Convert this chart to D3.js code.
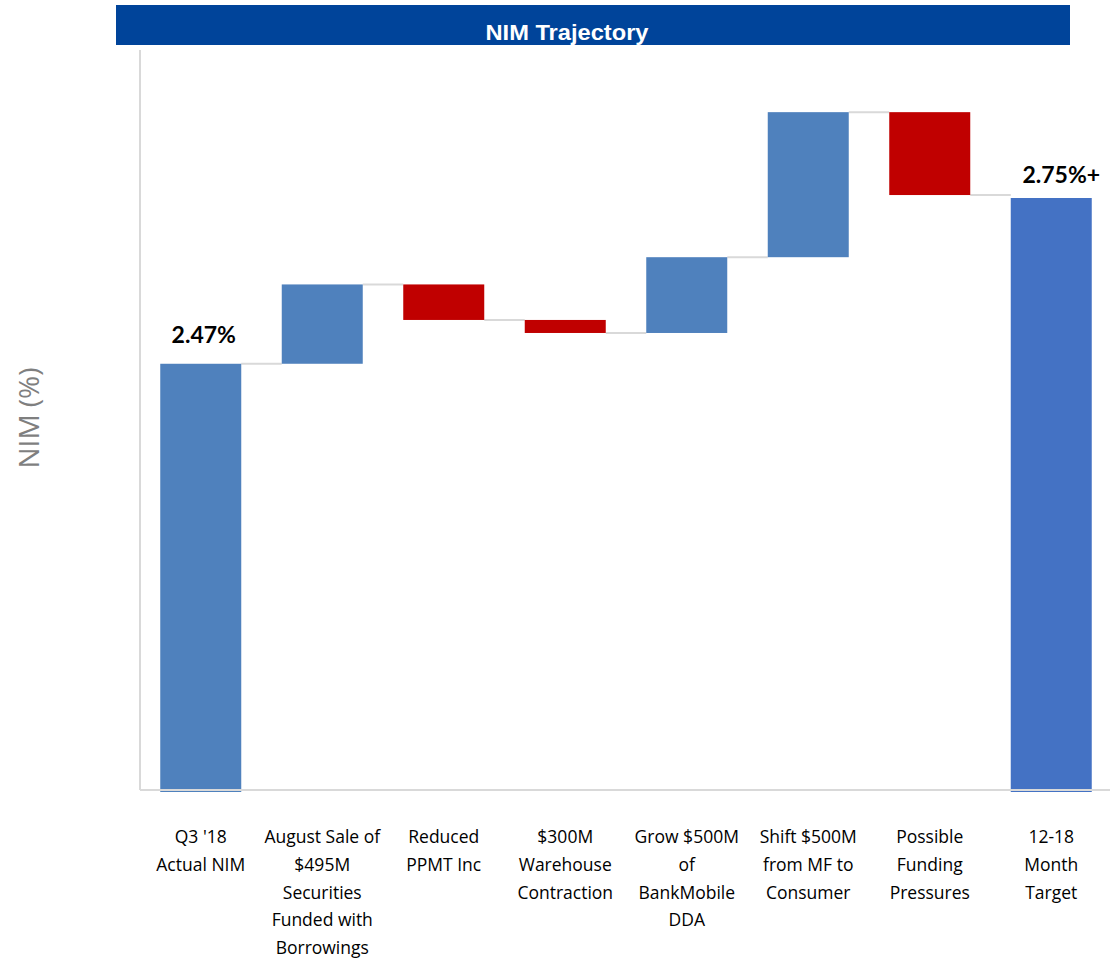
<!DOCTYPE html>
<html>
<head>
<meta charset="utf-8">
<script src="https://cdn.jsdelivr.net/npm/d3@7"></script>
<style>
  html, body { margin: 0; padding: 0; background: #fff; }
  svg { display: block; }
</style>
</head>
<body>
<svg id="chart" width="1118" height="958"></svg>
<script>
const categories = [
  ["Q3 '18", "Actual NIM"],
  ["August Sale of", "$495M", "Securities", "Funded with", "Borrowings"],
  ["Reduced", "PPMT Inc"],
  ["$300M", "Warehouse", "Contraction"],
  ["Grow $500M", "of", "BankMobile", "DDA"],
  ["Shift $500M", "from MF to", "Consumer"],
  ["Possible", "Funding", "Pressures"],
  ["12-18", "Month", "Target"]
];
const startValue = 2.47;
const deltas = [0.134, -0.06, -0.022, 0.128, 0.245, -0.14];
const endValue = 2.75;
const totalLabels = ["2.47%", "2.75%+"];
const yDomain = [1.75, 3.0];

const svg = d3.select("#chart");

// Title bar
svg.append("rect").attr("x", 116).attr("y", 5).attr("width", 954).attr("height", 40).attr("fill", "#00449A");
svg.append("text").attr("x", 567).attr("y", 40).attr("text-anchor", "middle")
  .attr("font-family", "Liberation Sans, Arial, sans-serif").attr("font-weight", "bold")
  .attr("font-size", 22).attr("fill", "#fff")
  .attr("textLength", 163).attr("lengthAdjust", "spacingAndGlyphs")
  .text("NIM Trajectory");

// Build waterfall
const rows = [];
rows.push({i: 0, lo: yDomain[0], hi: startValue, type: "total", color: "#4F81BD"});
let level = startValue;
deltas.forEach((d, k) => {
  const next = level + d;
  rows.push({i: k + 1, lo: Math.min(level, next), hi: Math.max(level, next),
             type: d >= 0 ? "up" : "down", color: d >= 0 ? "#4F81BD" : "#C00000"});
  level = next;
});
rows.push({i: 7, lo: yDomain[0], hi: endValue, type: "total", color: "#4472C4"});

const x = d3.scaleBand().domain(d3.range(categories.length)).range([140, 1112])
  .paddingInner(1/3).paddingOuter(1/6);
const y = d3.scaleLinear().domain(yDomain).range([790, 50]);

// Connectors
const levels = [startValue];
{ let l = startValue; deltas.forEach(d => { l += d; levels.push(l); }); }
svg.append("g").selectAll("line").data(levels).join("line")
  .attr("x1", (d, k) => x(k) + x.bandwidth())
  .attr("x2", (d, k) => x(k + 1))
  .attr("y1", d => y(d)).attr("y2", d => y(d))
  .attr("stroke", "#d9d9d9").attr("stroke-width", 2);

// Y axis line
svg.append("line").attr("x1", 140).attr("x2", 140).attr("y1", y(yDomain[1])).attr("y2", y(yDomain[0]))
  .attr("stroke", "#d9d9d9").attr("stroke-width", 2);

// Bars
svg.append("g").selectAll("rect").data(rows).join("rect")
  .attr("x", d => x(d.i))
  .attr("width", x.bandwidth())
  .attr("y", d => y(d.hi))
  .attr("height", d => y(d.lo) - y(d.hi) + (d.type === "total" ? 2 : 0))
  .attr("fill", d => d.color);

// X axis line
svg.append("line").attr("x1", 140).attr("x2", 1110).attr("y1", 790).attr("y2", 790)
  .attr("stroke", "#d9d9d9").attr("stroke-width", 2);

// Total labels
const totals = [{i: 0, v: startValue, t: totalLabels[0], dx: 3, dy: -21},
                {i: 7, v: endValue, t: totalLabels[1], dx: 10, dy: -15}];
svg.append("g").selectAll("text").data(totals).join("text")
  .attr("x", d => x(d.i) + x.bandwidth() / 2 + d.dx)
  .attr("y", d => y(d.v) + d.dy)
  .attr("text-anchor", "middle")
  .attr("font-family", "Lato, 'Open Sans', sans-serif").attr("font-weight", "bold")
  .attr("font-size", 23).attr("fill", "#000")
  .text(d => d.t);

// Category labels
const lab = svg.append("g").attr("font-family", "'Open Sans', sans-serif")
  .attr("font-size", 17.5).attr("fill", "#000");
categories.forEach((lines, k) => {
  const t = lab.append("text").attr("text-anchor", "middle");
  lines.forEach((s, j) => {
    t.append("tspan").attr("x", x(k) + x.bandwidth() / 2).attr("y", 843 + j * 27.8).text(s);
  });
});

// Y axis title
svg.append("text")
  .attr("transform", "translate(39,418) rotate(-90)")
  .attr("text-anchor", "middle")
  .attr("font-family", "'Open Sans', sans-serif").attr("font-size", 28)
  .attr("fill", "#7f7f7f").text("NIM (%)");
</script>
</body>
</html>
